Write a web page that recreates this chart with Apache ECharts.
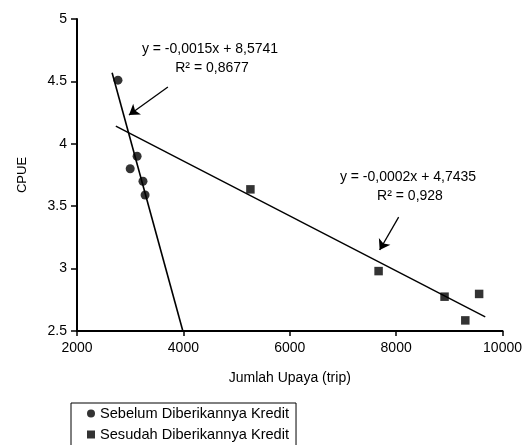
<!DOCTYPE html>
<html><head><meta charset="utf-8">
<script src="https://cdn.jsdelivr.net/npm/echarts@6/dist/echarts.min.js"></script>
<style>html,body{margin:0;padding:0;background:#fff}#c{width:525px;height:445px}</style>
</head><body><div id="c"></div>
<script>
// Data
const beforeX = [2770, 3130, 3000, 3240, 3280];
const beforeY = [4.51, 3.90, 3.80, 3.70, 3.59];
const afterX = [5260, 7670, 8910, 9560, 9300];
const afterY = [3.635, 2.98, 2.775, 2.797, 2.585];
// Trend line ends
const trend1X = [2660, 3990];
const trend1Y = [4.57, 2.5];
const trend2X = [2730, 9675];
const trend2Y = [4.142, 2.613];
// Arrows (start, end) in data units
const arrow1 = [[3709, 4.455], [2977, 4.231]];
const arrow2 = [[8047, 3.413], [7690, 3.149]];
const xTicks = {min: 2000, max: 10000, interval: 2000};
const yTicks = {min: 2.5, max: 5, interval: 0.5};
const seriesNames = ['Sebelum Diberikannya Kredit', 'Sesudah Diberikannya Kredit'];
const eq1 = ['y = -0,0015x + 8,5741', 'R² = 0,8677'];
const eq2 = ['y = -0,0002x + 4,7435', 'R² = 0,928'];

const zip = (a, b) => a.map((v, i) => [v, b[i]]);
const FONT = 'Liberation Sans, Arial, sans-serif';
const chart = echarts.init(document.getElementById('c'));
chart.setOption({
  animation: false,
  backgroundColor: '#fff',
  textStyle: {fontFamily: FONT, color: '#000'},
  grid: {left: 77, right: 22, top: 19, bottom: 114},
  xAxis: {
    type: 'value', min: xTicks.min, max: xTicks.max, interval: xTicks.interval,
    name: 'Jumlah Upaya (trip)', nameLocation: 'middle', nameGap: 40,
    nameTextStyle: {fontSize: 14, color: '#000', fontFamily: FONT},
    axisLine: {lineStyle: {color: '#000', width: 2}},
    axisTick: {show: true, length: 5, lineStyle: {color: '#000', width: 1.5}},
    axisLabel: {fontSize: 14, color: '#000', margin: 10, fontFamily: FONT, formatter: v => String(v)},
    splitLine: {show: false}
  },
  yAxis: {
    type: 'value', min: yTicks.min, max: yTicks.max, interval: yTicks.interval,
    name: 'CPUE', nameLocation: 'middle', nameGap: 48,
    nameTextStyle: {fontSize: 13, color: '#000', fontFamily: FONT},
    axisLine: {show: true, lineStyle: {color: '#000', width: 2}},
    axisTick: {show: true, length: 6, lineStyle: {color: '#000', width: 1.5}},
    axisLabel: {fontSize: 14, color: '#000', margin: 10, fontFamily: FONT},
    splitLine: {show: false}
  },
  legend: {
    data: [{name: seriesNames[0], icon: 'circle'}, {name: seriesNames[1], icon: 'rect'}],
    orient: 'vertical', left: 71, top: 403, height: 80,
    itemWidth: 8, itemHeight: 8, itemGap: 6,
    padding: [3, 7, 12, 16],
    borderColor: '#000', borderWidth: 1,
    textStyle: {fontSize: 14.6, color: '#000', fontFamily: FONT}
  },
  series: [
    {
      type: 'line', data: zip(trend1X, trend1Y), symbol: 'none', silent: true,
      lineStyle: {color: '#000', width: 1.6}, z: 2
    },
    {
      type: 'line', data: zip(trend2X, trend2Y), symbol: 'none', silent: true,
      lineStyle: {color: '#000', width: 1.4}, z: 2,
      markLine: {
        silent: true, symbol: ['none', 'arrow'], symbolSize: 10,
        label: {show: false},
        lineStyle: {color: '#000', width: 1.3, type: 'solid'},
        data: [
          [{coord: arrow1[0]}, {coord: arrow1[1]}],
          [{coord: arrow2[0]}, {coord: arrow2[1]}]
        ]
      }
    },
    {
      name: seriesNames[0], type: 'scatter', data: zip(beforeX, beforeY),
      symbol: 'circle', symbolSize: 9, itemStyle: {color: '#000'}, z: 3
    },
    {
      name: seriesNames[1], type: 'scatter', data: zip(afterX, afterY),
      symbol: 'rect', symbolSize: 8.5, itemStyle: {color: '#000'}, z: 3
    }
  ],
  graphic: [
    {type: 'text', x: 210, y: 49, style: {text: eq1[0], font: '14px ' + FONT, fill: '#000', textAlign: 'center', textVerticalAlign: 'middle'}},
    {type: 'text', x: 212, y: 68, style: {text: eq1[1], font: '14px ' + FONT, fill: '#000', textAlign: 'center', textVerticalAlign: 'middle'}},
    {type: 'text', x: 408, y: 177, style: {text: eq2[0], font: '14px ' + FONT, fill: '#000', textAlign: 'center', textVerticalAlign: 'middle'}},
    {type: 'text', x: 410, y: 196, style: {text: eq2[1], font: '14px ' + FONT, fill: '#000', textAlign: 'center', textVerticalAlign: 'middle'}}
  ]
});
</script></body></html>
